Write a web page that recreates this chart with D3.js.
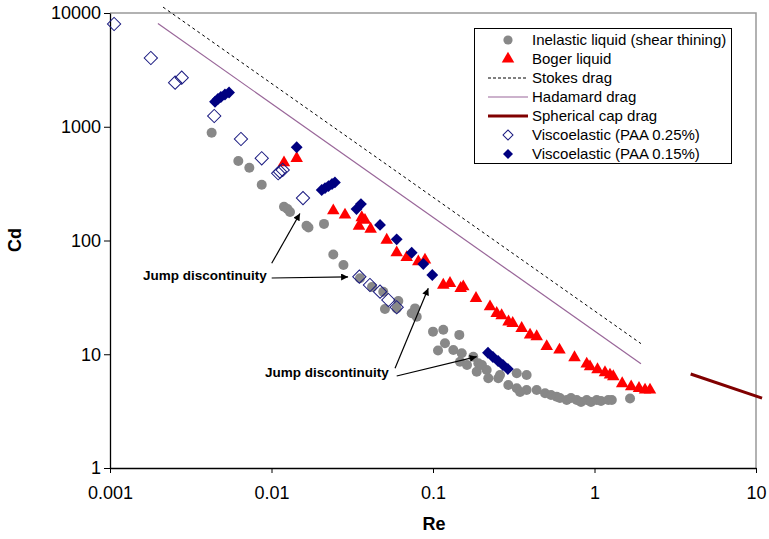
<!DOCTYPE html>
<html>
<head>
<meta charset="utf-8">
<script src="https://cdn.jsdelivr.net/npm/d3@7"></script>
<style>
  body { margin: 0; background: #fff; }
  text { font-family: "Liberation Sans", Arial, sans-serif; }
</style>
</head>
<body>
<div id="chart"></div>
<script>
// Inelastic liquid (shear thining)
const inelasticRe = [0.00426, 0.00623, 0.00729, 0.0087, 0.01195, 0.01256, 0.01302, 0.01647, 0.01694, 0.02114,
  0.02413, 0.0279, 0.0353, 0.0419, 0.0492, 0.0504, 0.061, 0.0596, 0.0738, 0.0774, 0.0793,
  0.1, 0.1158, 0.1455, 0.1186, 0.1074, 0.1336, 0.1506, 0.147, 0.1776, 0.1908, 0.1865, 0.215, 0.1624, 0.201,
  0.22, 0.2537, 0.26, 0.33, 0.38, 0.2926, 0.33, 0.38, 0.4385, 0.494, 0.538, 0.583, 0.611, 0.673, 0.715,
  0.776, 0.825, 0.895, 0.951, 1.032, 1.097, 1.217, 1.28, 0.346, 1.66]
const inelasticCd = [887, 500, 436, 309, 198, 189, 178, 135, 130, 140,
  75.3, 60.9, 46.5, 39.0, 35.5, 25.0, 29.4, 25.3, 22.9, 25.3, 21.4,
  15.8, 16.4, 14.8, 12.5, 10.8, 10.9, 10.2, 8.6, 9.52, 8.33, 7.03, 7.27, 8.05, 8.05,
  6.15, 6.15, 6.57, 6.8, 6.57, 5.37, 5.02, 4.85, 4.85, 4.54, 4.38, 4.24, 4.12, 3.96, 4.12,
  3.96, 3.8, 3.96, 3.8, 3.96, 3.88, 3.96, 3.96, 4.66, 4.08]

// Boger liquid
const bogerRe = [0.01195, 0.01432, 0.02413, 0.02852, 0.0362, 0.0379, 0.0348, 0.0411, 0.0517, 0.0596,
  0.0687, 0.0811, 0.0892, 0.1158, 0.1274, 0.1484, 0.154, 0.1846, 0.2254, 0.248, 0.266, 0.2935,
  0.3115, 0.354, 0.399, 0.4385, 0.506, 0.607, 0.752, 0.895, 0.938, 1.044, 1.161, 1.247, 1.307,
  1.484, 1.687, 1.886, 2.055, 2.206]
const bogerCd = [483, 528, 183, 168, 159, 151, 134, 126, 101, 78.1,
  70.9, 65.1, 67.4, 40.6, 42.0, 38.0, 39.3, 31.0, 26.2, 22.9, 21.9, 19.3,
  18.7, 16.9, 14.8, 14.3, 11.7, 10.9, 9.36, 8.21, 7.77, 7.34, 6.91, 6.57, 6.37,
  5.53, 5.18, 5.02, 4.85, 4.85]

// Viscoelastic (PAA 0.25%)
const paa25Re = [0.00106, 0.00179, 0.00253, 0.00278, 0.00442, 0.00647, 0.0087, 0.011, 0.01129, 0.01173,
  0.01567, 0.035, 0.0407, 0.047, 0.0529, 0.0596]
const paa25Cd = [8000, 4020, 2440, 2700, 1243, 780, 528, 390, 403, 417,
  236, 48.1, 40.6, 35.5, 30.0, 25.9]

// Viscoelastic (PAA 0.15%)
const paa15Re = [0.00447, 0.00466, 0.00486, 0.00515, 0.00546, 0.01432, 0.02046, 0.02145, 0.02254, 0.0237,
  0.0247, 0.0336, 0.0358, 0.047, 0.0596, 0.0738, 0.0871, 0.099, 0.219, 0.235, 0.253, 0.271, 0.291]
const paa15Cd = [1660, 1754, 1827, 1922, 2000, 660, 278, 289, 301, 314,
  324, 189, 209, 137, 102.4, 78.1, 62.1, 49.7, 10.3, 9.46, 8.72, 8.05, 7.42]

// drag correlations (end points)
const stokesRe = [0.00213, 1.94]
const stokesCd = [11270, 12.4]
const hadamardRe = [0.00198, 1.94]
const hadamardCd = [8080, 8.25]
const capRe = [3.94, 10.9]
const capCd = [6.7, 4.12]

const xTicks = [0.001, 0.01, 0.1, 1, 10]
const xTickLabels = ['0.001', '0.01', '0.1', '1', '10']
const yTicks = [1, 10, 100, 1000, 10000]
const yTickLabels = ['1', '10', '100', '1000', '10000']

const legendLabels = ['Inelastic liquid (shear thining)', 'Boger liquid', 'Stokes drag', 'Hadamard drag',
  'Spherical cap drag', 'Viscoelastic (PAA 0.25%)', 'Viscoelastic (PAA 0.15%)']

// annotations: [Re, Cd] of text start and arrows
const notes = [
  {text: 'Jump discontinuity', at: [0.0016, 49.7],
    arrows: [[[0.01003, 63.0], [0.0150, 173]], [[0.01003, 46.8], [0.0298, 47.8]]]},
  {text: 'Jump discontinuity', at: [0.00912, 6.98],
    arrows: [[[0.0582, 7.52], [0.0935, 38.0]], [[0.0596, 6.44], [0.1865, 9.52]]]}
]

const width = 769, height = 539
const mLeft = 110, mRight = 756, mTop = 13, mBottom = 468

const svg = d3.select('#chart').append('svg')
  .attr('width', width)
  .attr('height', height)

const x = d3.scaleLog().domain([0.001, 10]).range([mLeft, mRight])
const y = d3.scaleLog().domain([1, 10000]).range([mBottom, mTop])

svg.append('defs').append('marker')
  .attr('id', 'arrow')
  .attr('viewBox', '0 0 10 10')
  .attr('refX', 10)
  .attr('refY', 5)
  .attr('markerUnits', 'userSpaceOnUse')
  .attr('markerWidth', 9)
  .attr('markerHeight', 7)
  .attr('orient', 'auto')
  .append('path')
  .attr('d', 'M0,0 L10,5 L0,10 Z')
  .attr('fill', '#000')

// plot frame (top and right in grey)
svg.append('path')
  .attr('d', `M${mLeft},${mTop} H${mRight} V${mBottom}`)
  .attr('fill', 'none')
  .attr('stroke', '#999')
  .attr('stroke-width', 1.5)

const xAxis = svg.append('g')
  .attr('transform', `translate(0,${mBottom})`)
  .call(d3.axisBottom(x).tickValues(xTicks).tickFormat((d, i) => xTickLabels[i]).tickSize(5).tickSizeOuter(0))
const yAxis = svg.append('g')
  .attr('transform', `translate(${mLeft},0)`)
  .call(d3.axisLeft(y).tickValues(yTicks).tickFormat((d, i) => yTickLabels[i]).tickSize(6).tickSizeOuter(0))

;[xAxis, yAxis].forEach(a => {
  a.select('.domain').attr('stroke', '#000').attr('stroke-width', 1.3)
  a.selectAll('.tick line').attr('stroke', '#000')
  a.selectAll('.tick text').attr('font-size', 18).attr('fill', '#000')
    .style('font-family', '"Liberation Sans", Arial, sans-serif')
})
xAxis.selectAll('.tick text').attr('dy', '1.3em')
yAxis.selectAll('.tick text').attr('x', -9)

svg.append('text')
  .attr('x', (mLeft + mRight) / 2 + 1)
  .attr('y', 530)
  .attr('text-anchor', 'middle')
  .attr('font-size', 18)
  .attr('font-weight', 'bold')
  .text('Re')
svg.append('text')
  .attr('transform', 'translate(21,240) rotate(-90)')
  .attr('text-anchor', 'middle')
  .attr('font-size', 18)
  .attr('font-weight', 'bold')
  .text('Cd')

const zip = (a, b) => a.map((v, i) => [v, b[i]])
const line = d3.line().x(d => x(d[0])).y(d => y(d[1]))

svg.append('path').datum(zip(stokesRe, stokesCd))
  .attr('d', line).attr('fill', 'none').attr('stroke', '#000')
  .attr('stroke-width', 1).attr('stroke-dasharray', '3,3')
svg.append('path').datum(zip(hadamardRe, hadamardCd))
  .attr('d', line).attr('fill', 'none').attr('stroke', '#996699').attr('stroke-width', 1.2)
svg.append('path').datum(zip(capRe, capCd))
  .attr('d', line).attr('fill', 'none').attr('stroke', '#800000').attr('stroke-width', 3)

const tri = d3.symbol().type(d3.symbolTriangle).size(68)
const dia = s => d3.symbol().type(d3.symbolSquare).size(s)

svg.append('g').selectAll('circle')
  .data(zip(inelasticRe, inelasticCd))
  .join('circle')
  .attr('cx', d => x(d[0]))
  .attr('cy', d => y(d[1]))
  .attr('r', 5)
  .attr('fill', '#888')

svg.append('g').selectAll('path')
  .data(zip(bogerRe, bogerCd))
  .join('path')
  .attr('d', tri)
  .attr('transform', d => `translate(${x(d[0])},${y(d[1])})`)
  .attr('fill', '#ff0000')

svg.append('g').selectAll('path')
  .data(zip(paa25Re, paa25Cd))
  .join('path')
  .attr('d', dia(88))
  .attr('transform', d => `translate(${x(d[0])},${y(d[1])}) rotate(45)`)
  .attr('fill', 'none')
  .attr('stroke', '#1a1a80')
  .attr('stroke-width', 1)

svg.append('g').selectAll('path')
  .data(zip(paa15Re, paa15Cd))
  .join('path')
  .attr('d', dia(70))
  .attr('transform', d => `translate(${x(d[0])},${y(d[1])}) rotate(45)`)
  .attr('fill', '#000080')

// annotations
notes.forEach(n => {
  svg.append('text')
    .attr('x', x(n.at[0]))
    .attr('y', y(n.at[1]))
    .attr('dy', '0.35em')
    .attr('font-size', 13.5)
    .attr('font-weight', 'bold')
    .text(n.text)
  n.arrows.forEach(a => {
    svg.append('line')
      .attr('x1', x(a[0][0])).attr('y1', y(a[0][1]))
      .attr('x2', x(a[1][0])).attr('y2', y(a[1][1]))
      .attr('stroke', '#000')
      .attr('stroke-width', 1.2)
      .attr('marker-end', 'url(#arrow)')
  })
})

// legend
const lg = svg.append('g')
lg.append('rect')
  .attr('x', 474.5).attr('y', 28.5)
  .attr('width', 257).attr('height', 135)
  .attr('fill', '#fff').attr('stroke', '#000').attr('stroke-width', 1)
legendLabels.forEach((lab, i) => {
  const ly = 40 + i * 19
  const g = lg.append('g')
  if (i === 0) g.append('circle').attr('cx', 508).attr('cy', ly).attr('r', 4.6).attr('fill', '#888')
  if (i === 1) g.append('path').attr('d', tri).attr('transform', `translate(508,${ly})`).attr('fill', '#ff0000')
  if (i === 2) g.append('line').attr('x1', 488).attr('x2', 528).attr('y1', ly).attr('y2', ly)
    .attr('stroke', '#000').attr('stroke-dasharray', '3,2')
  if (i === 3) g.append('line').attr('x1', 488).attr('x2', 528).attr('y1', ly).attr('y2', ly)
    .attr('stroke', '#996699').attr('stroke-width', 1.2)
  if (i === 4) g.append('line').attr('x1', 488).attr('x2', 528).attr('y1', ly).attr('y2', ly)
    .attr('stroke', '#800000').attr('stroke-width', 3)
  if (i === 5) g.append('path').attr('d', dia(50)).attr('transform', `translate(508,${ly}) rotate(45)`)
    .attr('fill', 'none').attr('stroke', '#1a1a80')
  if (i === 6) g.append('path').attr('d', dia(50)).attr('transform', `translate(508,${ly}) rotate(45)`)
    .attr('fill', '#000080')
  g.append('text')
    .attr('x', 532)
    .attr('y', ly)
    .attr('dy', '0.35em')
    .attr('font-size', 15)
    .text(lab)
})
</script>
</body>
</html>
